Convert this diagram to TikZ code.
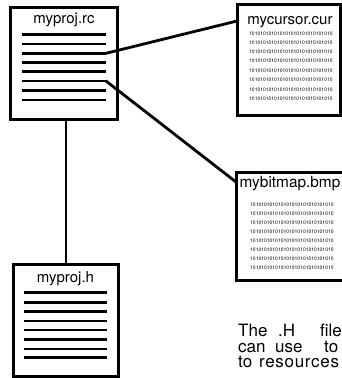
\documentclass[tikz,border=0pt]{standalone}
\usepackage{fontspec}
\setmainfont{TeX Gyre Heros}
\newcommand\binrow{101010101010101010101010101010}
\tikzset{
  docbox/.style={draw=black, line width=3pt, fill=white, inner sep=0pt, outer sep=0pt, anchor=north west},
  doctitle/.style={inner sep=0pt, anchor=base, font=\fontsize{15}{15}\selectfont},
  tline/.style={line width=2.5pt},
  conn/.style={line width=2.8pt, line cap=round},
  bin/.style={inner sep=0pt, anchor=west, font=\fontsize{5}{5}\selectfont},
  para/.style={inner sep=0pt, anchor=base west, text height=12pt, text depth=0pt, font=\fontsize{17}{17}\selectfont}
}
\begin{document}
\begin{tikzpicture}[x=1pt,y=-1pt]
\useasboundingbox (0,0) rectangle (342,378);
\clip (0,0) rectangle (342,378);
\fill[white] (0,0) rectangle (342,378);

% myproj.rc
\node[docbox, minimum width=107pt, minimum height=112pt] (rc) at (10,7) {};
\node[doctitle] (rctitle) at (64,23.5) {myproj.rc};
\foreach \y in {34.3,44,53.3,62.3,71.7,81,90.7,100} \draw[tline] (22,\y) -- (106,\y);
\coordinate (rcA) at (106,53.3);
\coordinate (rcB) at (106,81);
\coordinate (rcC) at (66,119);

% myproj.h
\node[docbox, minimum width=105pt, minimum height=112pt] (h) at (13,264) {};
\node[doctitle] (htitle) at (65.5,282) {myproj.h};
\foreach \y in {292.7,302.3,311.7,321,330,339.3,349,357.7} \draw[tline] (24,\y) -- (107,\y);
\coordinate (hT) at (66,264);

% mycursor.cur
\node[docbox, minimum width=103pt, minimum height=111pt] (cur) at (237,4) {};
\node[doctitle] (curtitle) at (290,24.5) {mycursor.cur};
\foreach \y [count=\i] in {33.3,42.3,51.7,61,70.7,80,89.3,99}
  \node[bin] (curbin\i) at (249,\y) {\binrow};
\coordinate (curL) at (237,21);

% mybitmap.bmp
\node[docbox, minimum width=120pt, minimum height=108pt] (bmp) at (236,172) {};
\node[doctitle, anchor=base west, font=\fontsize{15.4}{15.4}\selectfont] (bmptitle) at (239.5,187) {mybitmap.bmp};
\foreach \y [count=\i] in {204.3,213.3,222.7,231.7,241,250,259,267.3}
  \node[bin] (bmpbin\i) at (250,\y) {\binrow};
\coordinate (bmpL) at (236,182);

% connectors
\draw[conn] (rcA) -- (curL);
\draw[conn] (rcB) -- (bmpL);
\draw[line width=2.8pt] (rcC) -- (hT);

% paragraph (justified, cut at the right edge)
\node[para] (w1) at (238,336.5) {The};
\node[para] (w2) at (278,336.5) {.H};
\node[para] (w3) at (320,336.5) {file};
\node[para] (w4) at (238,352) {can};
\node[para] (w5) at (275,352) {use};
\node[para] (w6) at (324,352) {to};
\node[para] (w7) at (238,367.5) {to};
\node[para, font=\fontsize{17}{17}\selectfont\addfontfeature{LetterSpace=4}] (w8) at (259,367.5) {resources};
\end{tikzpicture}
\end{document}
